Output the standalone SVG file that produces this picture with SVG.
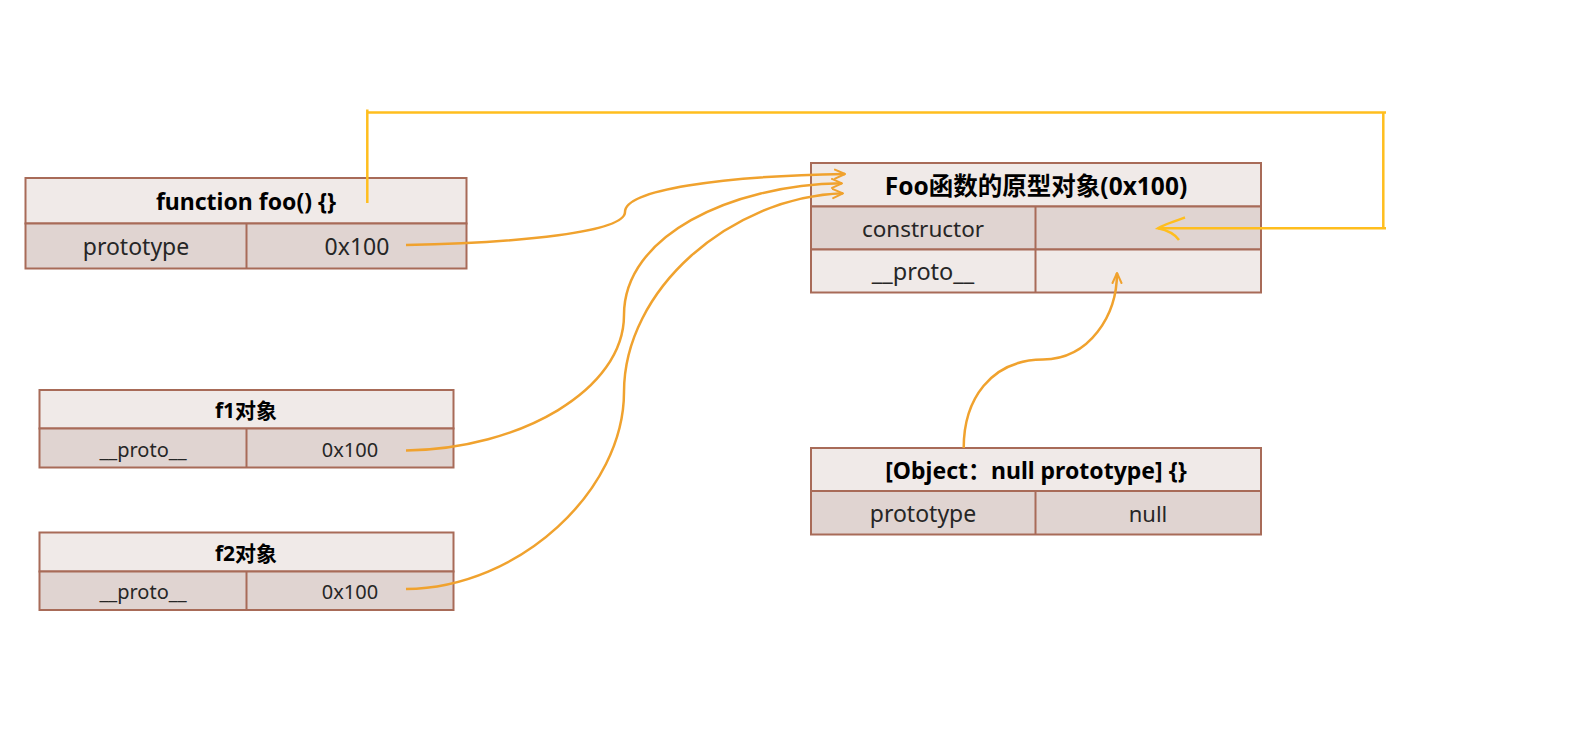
<svg xmlns="http://www.w3.org/2000/svg" width="1584" height="739" viewBox="0 0 1584 739">
<defs>
<marker id="arr" viewBox="0 0 12 12" refX="11" refY="6" markerWidth="12" markerHeight="12" markerUnits="userSpaceOnUse" orient="auto">
<path d="M1,1.5 L11,6 L1,10.5" fill="none" stroke="#F0A22E" stroke-width="2" stroke-linecap="round" stroke-linejoin="round"/>
</marker>
</defs>
<style>
.hd{fill:#F0EAE8;stroke:#A86B58;stroke-width:2}
.rw{fill:#E0D4D1;stroke:#A86B58;stroke-width:2}
.lt{fill:#F0EAE8;stroke:#A86B58;stroke-width:2}
.ln{stroke:#A86B58;stroke-width:2}
text{font-family:"Noto Sans","Noto Sans CJK SC",sans-serif;fill:#262626;text-anchor:middle;dominant-baseline:central}
.b{font-weight:bold;fill:#000}
.o{fill:none;stroke:#F0A22E;stroke-width:2.5}
.y{fill:none;stroke:#FFBE1E;stroke-width:2.5}
</style>
<rect width="1584" height="739" fill="#fff"/>

<g id="node-foo">
<rect class="hd" x="25.5" y="178" width="441" height="45.5"/>
<rect class="rw" x="25.5" y="223.5" width="441" height="45"/>
<line class="ln" x1="246.5" y1="223.5" x2="246.5" y2="268.5"/>
<text class="b" x="246" y="200.5" font-size="23">function foo() {}</text>
<text x="136" y="246" font-size="23">prototype</text>
<text x="357" y="246" font-size="23">0x100</text>
</g>

<g id="node-f1">
<rect class="hd" x="39.5" y="390" width="414" height="38.5"/>
<rect class="rw" x="39.5" y="428.5" width="414" height="39"/>
<line class="ln" x1="246.5" y1="428.5" x2="246.5" y2="467.5"/>
<text class="b" x="246" y="410" font-size="21">f1对象</text>
<text x="143" y="449" font-size="20">__proto__</text>
<text x="350" y="449" font-size="20">0x100</text>
</g>

<g id="node-f2">
<rect class="hd" x="39.5" y="532.5" width="414" height="39"/>
<rect class="rw" x="39.5" y="571.5" width="414" height="38.5"/>
<line class="ln" x1="246.5" y1="571.5" x2="246.5" y2="610"/>
<text class="b" x="246" y="552.5" font-size="21">f2对象</text>
<text x="143" y="591" font-size="20">__proto__</text>
<text x="350" y="591" font-size="20">0x100</text>
</g>

<g id="node-fooproto">
<rect class="hd" x="811" y="163" width="450" height="43.5"/>
<rect class="rw" x="811" y="206.5" width="450" height="43"/>
<rect class="lt" x="811" y="249.5" width="450" height="43"/>
<line class="ln" x1="1035.5" y1="206.5" x2="1035.5" y2="292.5"/>
<text class="b" x="1036" y="185" font-size="24.5">Foo函数的原型对象(0x100)</text>
<text x="923" y="228" font-size="22.5">constructor</text>
<text x="923" y="271" font-size="23.5">__proto__</text>
</g>

<g id="node-nullobj">
<rect class="hd" x="811" y="448" width="450" height="43"/>
<rect class="rw" x="811" y="491" width="450" height="43.5"/>
<line class="ln" x1="1035.5" y1="491" x2="1035.5" y2="534.5"/>
<text class="b" x="1036" y="469.5" font-size="23">[Object：null prototype] {}</text>
<text x="923" y="513" font-size="23">prototype</text>
<text x="1148" y="513" font-size="22">null</text>
</g>

<g id="connectors">
<path class="y" d="M367.3,203 V109.5 M367.3,112.5 H1386 M1383.3,112.5 V228.3 M1386,228.3 H1158"/>
<path class="y" d="M1185,217.5 C1172,222 1163,225 1158,228.3 C1166,230 1174,233 1179,240"/>
<path class="o" marker-end="url(#arr)" d="M406,245 C520,243 625,232 625,212 C625,190 720,176 845,174"/>
<path class="o" marker-end="url(#arr)" d="M406,450.5 C520,449 624,390 624,315 C624,236 730,185 842,183.3"/>
<path class="o" marker-end="url(#arr)" d="M406,589 C520,588 624,490 624,392 C624,290 730,197 843,193.3"/>
<path class="o" marker-end="url(#arr)" d="M963.7,448 C963.7,400 990,360 1043,359.6 C1090,359 1117,315 1117,273"/>
</g>
</svg>
